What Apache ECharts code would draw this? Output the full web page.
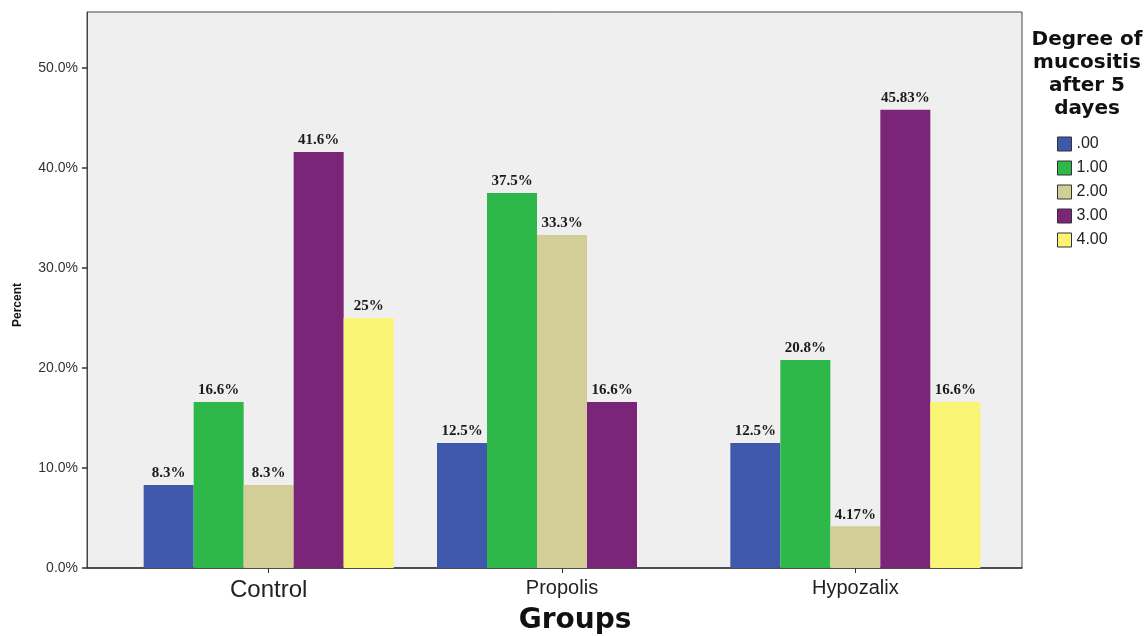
<!DOCTYPE html>
<html>
<head>
<meta charset="utf-8">
<script src="https://cdn.jsdelivr.net/npm/echarts@6/dist/echarts.min.js"></script>
<style>
html,body{margin:0;padding:0;background:#fff;}
#chart{width:1146px;height:636px;}
</style>
</head>
<body>
<div id="chart"></div>
<script>
const groups = ['Control', 'Propolis', 'Hypozalix'];
const degrees = ['.00', '1.00', '2.00', '3.00', '4.00'];
const deg0 = [8.3, 12.5, 12.5];
const deg1 = [16.6, 37.5, 20.8];
const deg2 = [8.3, 33.3, 4.17];
const deg3 = [41.6, 16.6, 45.83];
const deg4 = [25, null, 16.6];
const yTicks = [0, 10, 20, 30, 40, 50];
const colors = ['#3e58ac', '#2fb84a', '#d3ce97', '#7b2579', '#faf574'];

const seriesData = [deg0, deg1, deg2, deg3, deg4];

const chart = echarts.init(document.getElementById('chart'));
const option = {
  animation: false,
  backgroundColor: '#ffffff',
  grid: [
    { left: 87, top: 12, width: 935, height: 556, show: true, backgroundColor: '#efefef', borderColor: '#444', borderWidth: 1 },
    { left: 122, top: 12, width: 880, height: 556, show: false }
  ],
  xAxis: [
    { type: 'category', gridIndex: 0, data: ['a'], axisLine: { show: true, lineStyle: { color: '#333', width: 1.5 } },
      axisTick: { show: false }, axisLabel: { show: false } },
    { type: 'category', gridIndex: 1, data: groups,
      axisLine: { show: false },
      axisTick: { show: true, alignWithLabel: true, length: 5, lineStyle: { color: '#333' } },
      axisLabel: {
        margin: 10, color: '#222', fontFamily: 'Liberation Sans', fontSize: 20,
        formatter: function (v) { return v === 'Control' ? '{c|' + v + '}' : v; },
        rich: { c: { fontSize: 24, fontFamily: 'Liberation Sans', color: '#222' } }
      } }
  ],
  yAxis: [
    { type: 'value', gridIndex: 0, min: 0, max: 55.6, interval: 10,
      axisLine: { show: true, lineStyle: { color: '#444' } },
      axisTick: { show: true, inside: false, length: 5, customValues: yTicks, lineStyle: { color: '#333', width: 1.5 } },
      axisLabel: { customValues: yTicks, margin: 9, color: '#333', fontFamily: 'Liberation Sans', fontSize: 14,
        formatter: function (v) { return v.toFixed(1) + '%'; } },
      splitLine: { show: false } },
    { type: 'value', gridIndex: 1, min: 0, max: 55.6, interval: 10, show: false, splitLine: { show: false } }
  ],
  legend: {
    orient: 'vertical', left: 1052, top: 131, itemWidth: 14, itemHeight: 14, itemGap: 8,
    icon: 'rect', data: degrees,
    itemStyle: { borderColor: '#333', borderWidth: 1 },
    textStyle: { fontFamily: 'Liberation Sans', fontSize: 16, color: '#222', lineHeight: 14 }
  },
  graphic: [
    { type: 'text', x: 1087, y: 28, style: { text: 'Degree of\nmucositis\nafter 5\ndayes', align: 'center',
      font: 'bold 20px "DejaVu Sans"', lineHeight: 23, fill: '#111' } },
    { type: 'text', x: 575, y: 621, style: { text: 'Groups', align: 'center', verticalAlign: 'middle',
      font: 'bold 28px "DejaVu Sans"', fill: '#111' } },
    { type: 'text', x: 18, y: 305, rotation: Math.PI / 2, style: { text: 'Percent', align: 'center', verticalAlign: 'middle',
      font: 'bold 12px "Liberation Sans"', fill: '#111' } }
  ],
  series: seriesData.map(function (d, i) {
    return {
      name: degrees[i], type: 'bar', xAxisIndex: 1, yAxisIndex: 1, data: d,
      barWidth: 50, barGap: '0%',
      itemStyle: { color: colors[i] },
      label: { show: true, position: 'top', distance: 4, color: '#1a1a1a',
        fontFamily: 'Liberation Serif', fontWeight: 'bold', fontSize: 15,
        formatter: function (p) { return p.value + '%'; } }
    };
  })
};
chart.setOption(option);
</script>
</body>
</html>
